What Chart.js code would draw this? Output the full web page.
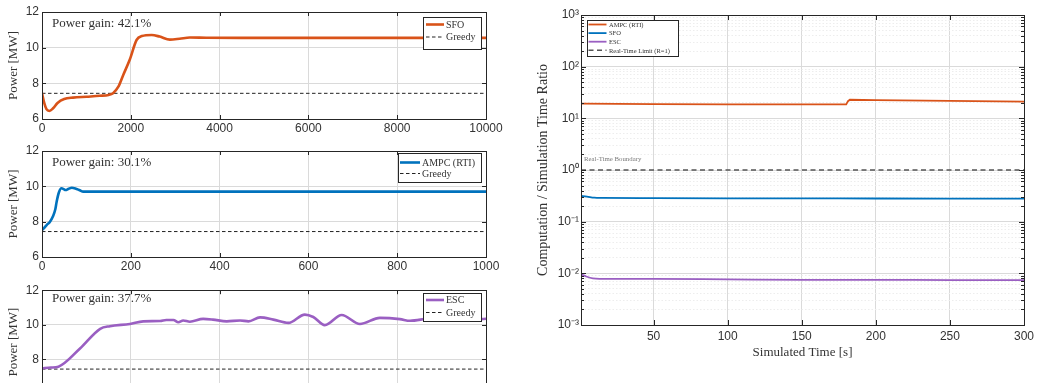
<!DOCTYPE html>
<html>
<head>
<meta charset="utf-8">
<script src="https://cdn.jsdelivr.net/npm/chart.js@4.4.1/dist/chart.umd.min.js"></script>
<style>
html, body { margin:0; padding:0; width:1041px; height:383px; overflow:hidden; background:#fff; }
canvas { position:absolute; }
</style>
</head>
<body>
<canvas id="c1" width="510" height="140" style="left:0;top:0"></canvas>
<canvas id="c2" width="510" height="140" style="left:0;top:140px"></canvas>
<canvas id="c3" width="510" height="137" style="left:0;top:280px"></canvas>
<canvas id="c4" width="521" height="383" style="left:520px;top:0"></canvas>
<script>
// ---------------- DATA ----------------
const greedyPower = 7.44;

const sfoX = [0, 50, 100, 165, 250, 350, 500, 700, 1000, 1300, 1500, 1600, 1720, 1830, 1980, 2130, 2250, 2470, 2650, 2880, 3100, 3330, 3700, 4500, 6000, 8000, 10000];
const sfoY = [7.45, 6.9, 6.55, 6.45, 6.6, 6.9, 7.12, 7.2, 7.25, 7.3, 7.35, 7.45, 7.81, 8.47, 9.35, 10.43, 10.65, 10.71, 10.62, 10.45, 10.5, 10.57, 10.56, 10.55, 10.55, 10.55, 10.55];

const ampcX = [0, 5, 10.5, 18, 25, 30, 33, 38, 44, 49, 53, 60, 67, 75, 85, 93, 100, 200, 400, 600, 800, 1000];
const ampcY = [7.53, 7.65, 7.81, 8.0, 8.32, 8.7, 9.13, 9.65, 9.89, 9.84, 9.79, 9.86, 9.92, 9.88, 9.78, 9.70, 9.70, 9.70, 9.70, 9.70, 9.70, 9.70];

const escX = [0, 100, 185, 428, 655, 765, 990, 1140, 1330, 1400, 1480, 1535, 1590, 1665, 1815, 1925, 2080, 2230, 2325, 2455, 2605, 2775, 2960, 3055, 3185, 3375, 3580, 3805, 4030, 4145, 4330, 4555, 4785, 5000];
const escY = [7.49, 7.53, 7.58, 8.63, 9.77, 9.92, 10.05, 10.2, 10.22, 10.28, 10.28, 10.15, 10.25, 10.18, 10.34, 10.3, 10.2, 10.25, 10.2, 10.43, 10.3, 10.11, 10.59, 10.45, 9.98, 10.57, 10.05, 10.4, 10.33, 10.23, 10.35, 10.47, 10.3, 10.35];

const gainLabels = ['Power gain: 42.1%', 'Power gain: 30.1%', 'Power gain: 37.7%'];

const rtAmpcX = [1, 50, 100, 150, 180, 181.2, 182.5, 200, 250, 300];
const rtAmpcY = [19.2, 18.9, 18.7, 18.6, 18.6, 21.5, 22.9, 22.6, 21.8, 21.0];
const rtSfoX = [1, 5, 10, 15, 50, 100, 150, 200, 250, 300];
const rtSfoY = [0.314, 0.305, 0.291, 0.288, 0.285, 0.283, 0.282, 0.281, 0.28, 0.279];
const rtEscX = [1, 4, 9, 20, 50, 100, 150, 200, 250, 300];
const rtEscY = [0.0096, 0.0088, 0.0080, 0.0078, 0.0078, 0.00765, 0.0075, 0.0075, 0.0074, 0.0074];
const rtLimitX = [1, 300];
const rtLimitY = [1, 1];

const logTickExps = [-3, -2, -1, 0, 1, 2, 3];
const rtXTicks = [50, 100, 150, 200, 250, 300];

// ---------------- STYLE ----------------
const C_ORANGE = '#D95319', C_BLUE = '#0072BD', C_PURPLE = '#9A5FC2';
const TXT = '#333333';
const SANS = "'Liberation Sans', Arial, sans-serif";
const SERIF = "'Liberation Serif', 'DejaVu Serif', serif";
const GRID = '#dadada';
const plain = v => String(v);

const pts = (xs, ys) => xs.map((x, i) => ({x, y: ys[i]}));

const framePlugin = {
  id: 'frame',
  afterDraw(chart, args, o) {
    const {ctx, chartArea: a} = chart;
    const xs = chart.scales.x, ys = chart.scales.y;
    const L = o.tickLen || 4, Lm = o.minorLen || L;
    ctx.save();
    ctx.strokeStyle = '#262626';
    ctx.lineWidth = 1;
    ctx.beginPath();
    xs.ticks.forEach(t => {
      const p = Math.round(xs.getPixelForValue(t.value)) + 0.5;
      ctx.moveTo(p, a.bottom); ctx.lineTo(p, a.bottom - L);
      ctx.moveTo(p, a.top); ctx.lineTo(p, a.top + L);
    });
    ys.ticks.forEach(t => {
      const len = t.minor ? Lm : L;
      const p = Math.round(ys.getPixelForValue(t.value)) + 0.5;
      ctx.moveTo(a.left, p); ctx.lineTo(a.left + len, p);
      ctx.moveTo(a.right, p); ctx.lineTo(a.right - len, p);
    });
    ctx.stroke();
    ctx.strokeRect(Math.round(a.left) + 0.5, Math.round(a.top) + 0.5, Math.round(a.right - a.left), Math.round(a.bottom - a.top));
    ctx.restore();
  }
};

const boxLegendPlugin = {
  id: 'boxLegend',
  afterDraw(chart, args, o) {
    if (!o || !o.w) return;
    const ctx = chart.ctx;
    ctx.save();
    ctx.fillStyle = '#fff';
    ctx.fillRect(o.x, o.y, o.w, o.h);
    ctx.strokeStyle = '#262626';
    ctx.lineWidth = 1;
    ctx.strokeRect(o.x + 0.5, o.y + 0.5, o.w, o.h);
    ctx.font = o.font;
    ctx.textBaseline = 'middle';
    ctx.fillStyle = TXT;
    chart.data.datasets.forEach((d, i) => {
      const y = o.y + o.first + i * o.row;
      ctx.save();
      ctx.strokeStyle = d.borderColor;
      ctx.lineWidth = d.borderWidth;
      ctx.setLineDash(d.borderDash || []);
      ctx.beginPath();
      ctx.moveTo(o.x + o.l1, y); ctx.lineTo(o.x + o.l2, y);
      ctx.stroke();
      ctx.restore();
      ctx.fillText(d.label, o.x + o.tx, y + 0.5);
    });
    ctx.restore();
  }
};

const notePlugin = {
  id: 'notes',
  afterDraw(chart, args, o) {
    if (!o || !o.items) return;
    const ctx = chart.ctx;
    ctx.save();
    ctx.textBaseline = 'middle';
    o.items.forEach(it => {
      ctx.font = it.font; ctx.fillStyle = it.color;
      ctx.fillText(it.text, it.x, it.y);
    });
    ctx.restore();
  }
};

Chart.register(framePlugin, boxLegendPlugin, notePlugin);

function powerChart(id, ds, label, color, xmax, xstep, padTop, xAxisH, legend, gain) {
  return new Chart(document.getElementById(id), {
    type: 'line',
    data: {
      datasets: [
        {label, data: ds, borderColor: color, borderWidth: 2.6, pointRadius: 0, cubicInterpolationMode: 'monotone', fill: false},
        {label: 'Greedy', data: [{x: 0, y: greedyPower}, {x: xmax, y: greedyPower}], borderColor: '#222', borderWidth: 1, borderDash: [3.5, 2.5], pointRadius: 0, fill: false}
      ]
    },
    options: {
      responsive: false, animation: false, devicePixelRatio: 1,
      layout: {padding: {top: padTop, right: 24, left: 0, bottom: 0}},
      plugins: {
        legend: {display: false}, tooltip: {enabled: false},
        frame: {tickLen: 4},
        boxLegend: legend,
        notes: {items: [{text: gain, x: 52, y: padTop + 12, font: '13px ' + SERIF, color: TXT}]}
      },
      scales: {
        x: {
          type: 'linear', min: 0, max: xmax,
          ticks: {stepSize: xstep, color: TXT, font: {family: SANS, size: 12}, padding: 2, maxRotation: 0, callback: plain},
          grid: {color: GRID, drawTicks: false}, border: {display: false},
          afterFit: s => { s.height = xAxisH; }
        },
        y: {
          min: 6, max: 12,
          ticks: {stepSize: 2, color: TXT, font: {family: SANS, size: 12}, padding: 3, callback: plain},
          grid: {color: GRID, drawTicks: false}, border: {display: false},
          title: {display: true, text: 'Power [MW]', color: TXT, font: {family: SERIF, size: 13}, padding: {top: 6, bottom: 0}},
          afterFit: s => { s.width = 42; }
        }
      }
    }
  });
}

powerChart('c1', pts(sfoX, sfoY), 'SFO', C_ORANGE, 10000, 2000, 12, 21,
  {x: 423, y: 17, w: 58, h: 32, first: 7.5, row: 12.5, l1: 3, l2: 21, tx: 23, font: '10px ' + SERIF}, gainLabels[0]);
powerChart('c2', pts(ampcX, ampcY), 'AMPC (RTI)', C_BLUE, 1000, 200, 11, 23,
  {x: 398, y: 13, w: 83, h: 29, first: 9.5, row: 11, l1: 2, l2: 22, tx: 24, font: '10px ' + SERIF}, gainLabels[1]);
powerChart('c3', pts(escX, escY), 'ESC', C_PURPLE, 5000, 1000, 7, 23,
  {x: 423, y: 13, w: 58, h: 28, first: 7, row: 12.5, l1: 3, l2: 21, tx: 23, font: '10px ' + SERIF}, gainLabels[2]);

// ---------------- RIGHT: timing ratio ----------------
const supMap = {'-': '⁻', '0': '⁰', '1': '¹', '2': '²', '3': '³', '4': '⁴', '5': '⁵', '6': '⁶', '7': '⁷', '8': '⁸', '9': '⁹'};
const sup = n => String(n).split('').map(c => supMap[c]).join('');

new Chart(document.getElementById('c4'), {
  type: 'line',
  data: {
    datasets: [
      {label: 'AMPC (RTI)', data: pts(rtAmpcX, rtAmpcY), borderColor: C_ORANGE, borderWidth: 1.8, pointRadius: 0, tension: 0},
      {label: 'SFO', data: pts(rtSfoX, rtSfoY), borderColor: C_BLUE, borderWidth: 1.8, pointRadius: 0, cubicInterpolationMode: 'monotone'},
      {label: 'ESC', data: pts(rtEscX, rtEscY), borderColor: C_PURPLE, borderWidth: 1.8, pointRadius: 0, cubicInterpolationMode: 'monotone'},
      {label: 'Real-Time Limit (R=1)', data: pts(rtLimitX, rtLimitY), borderColor: '#555', borderWidth: 1.5, borderDash: [5, 3.5], pointRadius: 0}
    ]
  },
  options: {
    responsive: false, animation: false, devicePixelRatio: 1,
    layout: {padding: {top: 15, right: 17, left: 0, bottom: 0}},
    plugins: {
      legend: {display: false}, tooltip: {enabled: false},
      frame: {tickLen: 5, minorLen: 3},
      boxLegend: {x: 67, y: 20, w: 91, h: 36, first: 4.5, row: 8.6, l1: 1.5, l2: 19.5, tx: 22, font: '6.5px ' + SERIF},
      notes: {items: [{text: 'Real-Time Boundary', x: 64, y: 159, font: '6.8px ' + SERIF, color: '#7a7a7a'}]}
    },
    scales: {
      x: {
        type: 'linear', min: 1, max: 300,
        afterBuildTicks: s => { s.ticks = rtXTicks.map(v => ({value: v})); },
        ticks: {color: TXT, font: {family: SANS, size: 12}, padding: 4, maxRotation: 0, autoSkip: false, callback: plain},
        grid: {color: GRID, drawTicks: false}, border: {display: false},
        title: {display: true, text: 'Simulated Time [s]', color: TXT, font: {family: SERIF, size: 13}, padding: {top: 0, bottom: 23}},
        afterFit: s => { s.height = 58; }
      },
      y: {
        type: 'logarithmic', min: 0.001, max: 1000,
        afterBuildTicks: s => {
          const t = [];
          for (let i = 0; i < logTickExps.length - 1; i++) {
            const e = logTickExps[i];
            for (let m = 1; m <= 9; m++) t.push({value: m * Math.pow(10, e), minor: m !== 1, exp: e});
          }
          const last = logTickExps[logTickExps.length - 1];
          t.push({value: Math.pow(10, last), minor: false, exp: last});
          s.ticks = t;
        },
        ticks: {
          autoSkip: false, color: TXT, font: {family: SANS, size: 12}, padding: 2,
          callback: function (v, i, ticks) { return ticks[i].minor ? '' : '10' + sup(ticks[i].exp); }
        },
        grid: {
          drawTicks: false,
          color: c => (c.tick && c.tick.minor) ? '#ededed' : GRID
        },
        border: {display: false, dash: c => (c.tick && c.tick.minor) ? [1.5, 2] : []},
        title: {display: true, text: 'Computation / Simulation Time Ratio', color: TXT, font: {family: SERIF, size: 14}, padding: {top: 15, bottom: 0}},
        afterFit: s => { s.width = 61; }
      }
    }
  }
});
</script>
</body>
</html>
